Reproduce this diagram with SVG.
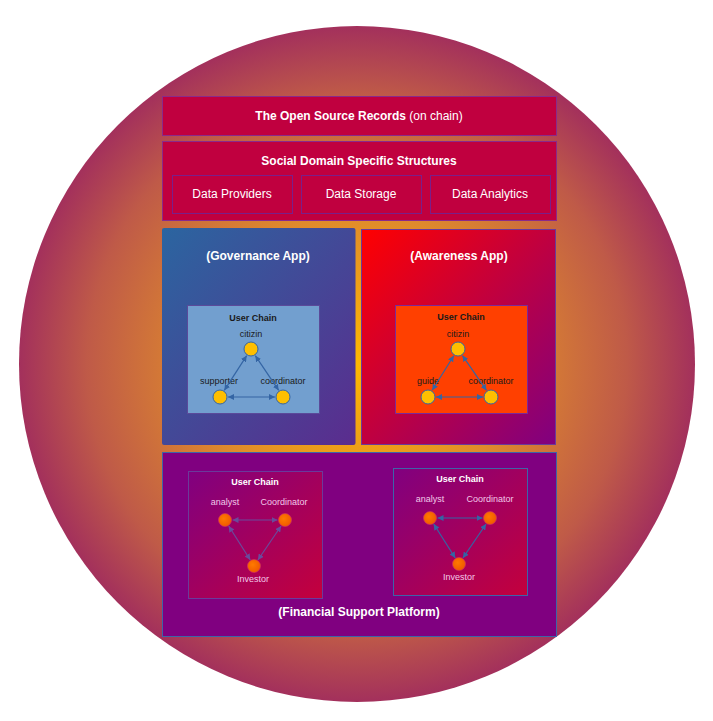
<svg xmlns="http://www.w3.org/2000/svg" width="713" height="721" viewBox="0 0 713 721">
<defs>
  <radialGradient id="bg" cx="50%" cy="50%" r="50%">
    <stop offset="0" stop-color="#ffb800"/>
    <stop offset="0.45" stop-color="#df8a2c"/>
    <stop offset="0.8" stop-color="#bf5a48"/>
    <stop offset="1" stop-color="#a3305c"/>
  </radialGradient>
  <linearGradient id="gov" x1="0" y1="0" x2="1" y2="1">
    <stop offset="0" stop-color="#2b65a0"/>
    <stop offset="1" stop-color="#5b2c8e"/>
  </linearGradient>
  <linearGradient id="awa" x1="0" y1="0" x2="1" y2="1">
    <stop offset="0" stop-color="#ff0000"/>
    <stop offset="1" stop-color="#800080"/>
  </linearGradient>
  <linearGradient id="fin" x1="0" y1="0" x2="1" y2="1">
    <stop offset="0" stop-color="#800080"/>
    <stop offset="1" stop-color="#c4003c"/>
  </linearGradient>
  <radialGradient id="onode" cx="40%" cy="40%" r="60%">
    <stop offset="0" stop-color="#ff7a00"/>
    <stop offset="1" stop-color="#f05a00"/>
  </radialGradient>
  <marker id="ab" viewBox="0 0 10 10" refX="10" refY="5" markerWidth="6" markerHeight="6" markerUnits="userSpaceOnUse" orient="auto-start-reverse">
    <path d="M0,0 L10,5 L0,10 z" fill="#3465a4"/>
  </marker>
  <marker id="ap" viewBox="0 0 10 10" refX="10" refY="5" markerWidth="6" markerHeight="6" markerUnits="userSpaceOnUse" orient="auto-start-reverse">
    <path d="M0,0 L10,5 L0,10 z" fill="#6a4a9c"/>
  </marker>
</defs>
<style>
  text { font-family: "Liberation Sans", Arial, sans-serif; text-anchor: middle; }
  .hdr { fill: #c0003f; stroke: #8a2a8a; stroke-width: 1; }
  .sub { fill: #c0003f; stroke: #7a1f8a; stroke-width: 1; }
  .t12b { font-size: 12px; font-weight: bold; fill: #ffffff; }
  .t12 { font-size: 12px; fill: #ffffff; }
  .uc { font-size: 9px; font-weight: bold; }
  .lbl { font-size: 9px; fill: #1a1a1a; }
  .flbl { font-size: 9px; fill: #f2c8e8; }
  .ynode { fill: #ffbf00; stroke: #3465a4; stroke-width: 1; }
  .onode { fill: url(#onode); stroke: #d0306a; stroke-width: 0.6; }
  .cb { stroke: #3465a4; stroke-width: 1.2; fill: none; marker-start: url(#ab); marker-end: url(#ab); }
  .cp { stroke: #6a4a9c; stroke-width: 1.2; fill: none; marker-start: url(#ap); marker-end: url(#ap); }
</style>

<circle cx="357" cy="364" r="338" fill="url(#bg)"/>

<g id="records">
  <rect class="hdr" x="162.5" y="96.5" width="394" height="39"/>
  <text x="359" y="120" class="t12"><tspan font-weight="bold">The Open Source Records</tspan> (on chain)</text>
</g>

<g id="social">
  <rect class="hdr" x="162.5" y="141.5" width="394" height="79"/>
  <text x="359" y="165" class="t12b">Social Domain Specific Structures</text>
</g>
<g id="data-providers">
  <rect class="sub" x="172.5" y="175.5" width="120" height="38"/>
  <text x="232" y="198" class="t12">Data Providers</text>
</g>
<g id="data-storage">
  <rect class="sub" x="301.5" y="175.5" width="120" height="38"/>
  <text x="361" y="198" class="t12">Data Storage</text>
</g>
<g id="data-analytics">
  <rect class="sub" x="430.5" y="175.5" width="120" height="38"/>
  <text x="490" y="198" class="t12">Data Analytics</text>
</g>

<g id="governance">
  <rect x="162" y="228" width="193.5" height="217" rx="2" fill="url(#gov)"/>
  <text x="258" y="260" class="t12b">(Governance App)</text>
  <rect x="187.5" y="305.5" width="132" height="108" fill="#729fcf" stroke="#5b4a9a" stroke-width="1"/>
  <text x="253" y="321" class="uc" fill="#1a1a1a">User Chain</text>
</g>
<g id="gov-citizin">
  <circle class="ynode" cx="251" cy="349" r="7"/>
  <text x="251" y="337" class="lbl">citizin</text>
</g>
<g id="gov-supporter">
  <circle class="ynode" cx="220" cy="397" r="7"/>
  <text x="219" y="384" class="lbl">supporter</text>
</g>
<g id="gov-coordinator">
  <circle class="ynode" cx="283" cy="397" r="7"/>
  <text x="283" y="384" class="lbl">coordinator</text>
</g>

<g id="awareness">
  <rect x="361.5" y="229.5" width="194" height="215" fill="url(#awa)" stroke="#6a3a9a" stroke-width="1"/>
  <text x="459" y="260" class="t12b">(Awareness App)</text>
  <rect x="395.5" y="305.5" width="132" height="108" fill="#ff4000" stroke="#7a2a9a" stroke-width="1"/>
  <text x="461" y="320" class="uc" fill="#1a1a1a">User Chain</text>
</g>
<g id="awa-citizin">
  <circle class="ynode" cx="458" cy="349" r="7"/>
  <text x="458" y="337" class="lbl">citizin</text>
</g>
<g id="awa-guide">
  <circle class="ynode" cx="428" cy="397" r="7"/>
  <text x="428" y="384" class="lbl">guide</text>
</g>
<g id="awa-coordinator">
  <circle class="ynode" cx="491" cy="397" r="7"/>
  <text x="491" y="384" class="lbl">coordinator</text>
</g>

<g id="financial">
  <rect x="162.5" y="452.5" width="394" height="184" fill="#800080" stroke="#3d64a8" stroke-width="1"/>
  <text x="359" y="616" class="t12b">(Financial Support Platform)</text>
  <rect x="188.5" y="471.5" width="134" height="127" fill="url(#fin)" stroke="#6b3a9a" stroke-width="1"/>
  <text x="255" y="485" class="uc" fill="#ffffff">User Chain</text>
  <rect x="393.5" y="468.5" width="134" height="127" fill="url(#fin)" stroke="#3d64a8" stroke-width="1"/>
  <text x="460" y="482" class="uc" fill="#ffffff">User Chain</text>
</g>
<g id="fin1-analyst">
  <circle class="onode" cx="225" cy="520" r="6.5"/>
  <text x="225" y="505" class="flbl">analyst</text>
</g>
<g id="fin1-coordinator">
  <circle class="onode" cx="285" cy="520" r="6.5"/>
  <text x="284" y="505" class="flbl">Coordinator</text>
</g>
<g id="fin1-investor">
  <circle class="onode" cx="254" cy="566" r="6.5"/>
  <text x="253" y="582" class="flbl">Investor</text>
</g>
<g id="fin2-analyst">
  <circle class="onode" cx="430" cy="518" r="6.5"/>
  <text x="430" y="502" class="flbl">analyst</text>
</g>
<g id="fin2-coordinator">
  <circle class="onode" cx="490" cy="518" r="6.5"/>
  <text x="490" y="502" class="flbl">Coordinator</text>
</g>
<g id="fin2-investor">
  <circle class="onode" cx="459" cy="564" r="6.5"/>
  <text x="459" y="580" class="flbl">Investor</text>
</g>

<g id="connectors">
  <line class="cb" x1="246.7" y1="355.7" x2="224.3" y2="390.3"/>
  <line class="cb" x1="255.3" y1="355.7" x2="278.7" y2="390.3"/>
  <line class="cb" x1="228" y1="397" x2="275" y2="397"/>
  <line class="cb" x1="453.8" y1="355.8" x2="432.2" y2="390.2"/>
  <line class="cb" x1="462.5" y1="355.6" x2="486.5" y2="390.4"/>
  <line class="cb" x1="436" y1="397" x2="483" y2="397"/>
  <line class="cp" x1="232.5" y1="520" x2="277.5" y2="520"/>
  <line class="cp" x1="228.7" y1="526" x2="250.3" y2="560"/>
  <line class="cp" x1="281.1" y1="526" x2="257.9" y2="560"/>
  <line class="cb" x1="437.5" y1="518" x2="482.5" y2="518"/>
  <line class="cb" x1="433.7" y1="524" x2="455.3" y2="558"/>
  <line class="cb" x1="486.1" y1="524" x2="462.9" y2="558"/>
</g>
</svg>
